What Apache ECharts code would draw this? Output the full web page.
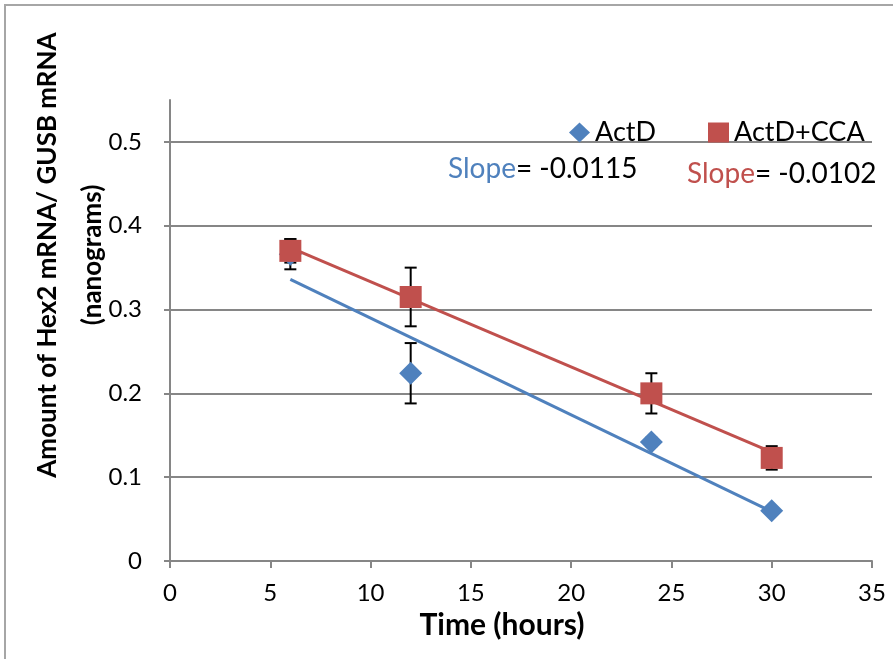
<!DOCTYPE html>
<html>
<head>
<meta charset="utf-8">
<script src="https://cdn.jsdelivr.net/npm/echarts@6/dist/echarts.min.js"></script>
<style>
html,body{margin:0;padding:0;background:#fff;}
#chart{width:893px;height:659px;}
</style>
</head>
<body>
<div id="chart"></div>
<script>
const timeHours = [6, 12, 24, 30];
const actD = [0.366, 0.224, 0.142, 0.060];
const actDErr = [0.018, 0.036, 0.005, 0.004];
const actDCCA = [0.370, 0.315, 0.200, 0.123];
const actDCCAErr = [0.014, 0.035, 0.024, 0.014];
const trendX = [6, 30];
const actDTrend = [0.336, 0.059];
const actDCCATrend = [0.374, 0.130];
const seriesNames = ['ActD', 'ActD+CCA'];
const slopeLabels = ['-0.0115', '-0.0102'];
const xTitle = 'Time (hours)';
const yTitle1 = 'Amount of Hex2 mRNA/ GUSB mRNA';
const yTitle2 = '(nanograms)';

const BLUE = '#4F81BD', RED = '#C0504D', GRID = '#868686';
const FONT = 'Lato';

function pts(xs, ys){ return xs.map((x,i)=>[x, ys[i]]); }
function errData(xs, ys, es){ return xs.map((x,i)=>[x, ys[i]-es[i], ys[i]+es[i]]); }

function errRender(params, api){
  const x = api.value(0), lo = api.value(1), hi = api.value(2);
  const pLo = api.coord([x, lo]), pHi = api.coord([x, hi]);
  const w = 6;
  const st = {stroke:'#000', lineWidth:2};
  return {type:'group', children:[
    {type:'line', shape:{x1:pLo[0], y1:pLo[1], x2:pHi[0], y2:pHi[1]}, style:st},
    {type:'line', shape:{x1:pLo[0]-w, y1:pLo[1], x2:pLo[0]+w, y2:pLo[1]}, style:st},
    {type:'line', shape:{x1:pHi[0]-w, y1:pHi[1], x2:pHi[0]+w, y2:pHi[1]}, style:st}
  ]};
}

const chart = echarts.init(document.getElementById('chart'), null, {renderer:'canvas'});
chart.setOption({
  backgroundColor:'#fff',
  animation:false,
  textStyle:{fontFamily:FONT},
  grid:{left:170, right:21, top:100, bottom:98, containLabel:false},
  legend:{
    data:[{name:seriesNames[0], icon:'diamond'},{name:seriesNames[1], icon:'rect'}],
    left:564, top:114, itemWidth:21, itemHeight:20, itemGap:52,
    textStyle:{fontFamily:FONT, fontSize:27, color:'#000'}
  },
  xAxis:{
    type:'value', min:0, max:35, interval:5,
    axisLine:{show:true, onZero:false, lineStyle:{color:GRID, width:2}},
    axisTick:{show:true, inside:false, length:7, lineStyle:{color:GRID, width:2}},
    axisLabel:{fontFamily:FONT, fontSize:24, color:'#000', margin:20},
    splitLine:{show:false}
  },
  yAxis:{
    type:'value', min:0, max:0.55, interval:0.1,
    axisLine:{show:true, lineStyle:{color:GRID, width:2}},
    axisTick:{show:true, length:6, lineStyle:{color:GRID, width:2}},
    axisLabel:{fontFamily:FONT, fontSize:24, color:'#000', margin:28, showMaxLabel:false,
      formatter:function(v){ return Math.abs(v-0.55)<1e-6 ? '' : String(Math.round(v*10)/10); }},
    splitLine:{show:true, showMaxLine:false, lineStyle:{color:GRID, width:2}}
  },
  series:[
    {name:seriesNames[0]+' trend', type:'line', data:pts(trendX, actDTrend), symbol:'none',
      lineStyle:{color:BLUE, width:3}, z:2, silent:true},
    {name:seriesNames[1]+' trend', type:'line', data:pts(trendX, actDCCATrend), symbol:'none',
      lineStyle:{color:RED, width:3}, z:2, silent:true},
    {type:'custom', renderItem:errRender, data:errData(timeHours, actD, actDErr), z:3, encode:{x:0, y:[1,2]}},
    {type:'custom', renderItem:errRender, data:errData(timeHours, actDCCA, actDCCAErr), z:3, encode:{x:0, y:[1,2]}},
    {name:seriesNames[0], type:'scatter', data:pts(timeHours, actD), symbol:'diamond', symbolSize:23,
      itemStyle:{color:BLUE, opacity:1}, z:4},
    {name:seriesNames[1], type:'scatter', data:pts(timeHours, actDCCA), symbol:'rect', symbolSize:22,
      itemStyle:{color:RED, opacity:1}, z:4}
  ],
  graphic:[
    {type:'rect', shape:{x:5, y:5, width:900, height:700}, style:{fill:'none', stroke:'#a6a6a6', lineWidth:2}, silent:true, z:0},
    {type:'text', x:448, y:169, style:{text:'{c|Slope}{k|= '+slopeLabels[0]+'}', verticalAlign:'middle',
      rich:{c:{fill:BLUE, fontSize:28, fontFamily:FONT}, k:{fill:'#000', fontSize:28, fontFamily:FONT}}}},
    {type:'text', x:687, y:174, style:{text:'{c|Slope}{k|= '+slopeLabels[1]+'}', verticalAlign:'middle',
      rich:{c:{fill:RED, fontSize:28, fontFamily:FONT}, k:{fill:'#000', fontSize:28, fontFamily:FONT}}}},
    {type:'text', x:502, y:625, style:{text:xTitle, align:'center', verticalAlign:'middle',
      fontSize:30, fontWeight:'bold', fontFamily:FONT, fill:'#000'}},
    {type:'text', x:48, y:255, rotation:Math.PI/2, style:{text:yTitle1, align:'center', verticalAlign:'middle',
      fontSize:26, fontWeight:'bold', fontFamily:FONT, fill:'#000'}},
    {type:'text', x:93, y:255, rotation:Math.PI/2, style:{text:yTitle2, align:'center', verticalAlign:'middle',
      fontSize:26, fontWeight:'bold', fontFamily:FONT, fill:'#000'}}
  ]
});
</script>
</body>
</html>
